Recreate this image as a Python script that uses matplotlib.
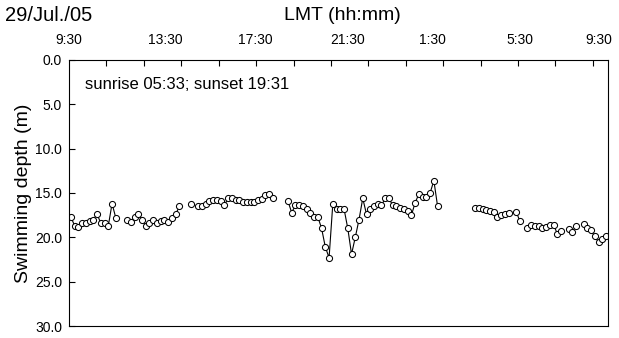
import numpy as np
import matplotlib.pyplot as plt

plt.rcParams['font.family'] = ['Liberation Sans Narrow', 'Liberation Sans', 'DejaVu Sans']

# depth records every 10 min from 9:30, split in runs (gaps = no data)
# index of the first record of each run
run_starts = [0, 15, 32, 34, 58, 108, 119, 122, 133, 137]

run_a = [17.7, 18.7, 18.8, 18.4, 18.4, 18.2, 18.0, 17.4, 18.4, 18.4, 18.7, 16.2, 17.8]
run_b = [18.0, 18.3, 17.7, 17.4, 18.0, 18.7, 18.4, 18.1, 18.4, 18.2, 18.0, 18.3,
         17.8, 17.4, 16.5]
run_c = [16.2]
run_d = [16.5, 16.5, 16.2, 15.9, 15.8, 15.8, 15.9, 16.4, 15.6, 15.6, 15.8, 15.8,
         16.0, 16.0, 16.0, 16.0, 15.8, 15.7, 15.2, 15.1, 15.6]
run_e = [15.9, 17.2, 16.4, 16.3, 16.5, 16.8, 17.2, 17.7, 17.7, 19.0, 21.1, 22.3,
         16.2, 16.8, 16.8, 16.8, 19.0, 21.9, 20.0, 18.0, 15.6, 17.4, 16.8, 16.5,
         16.2, 16.4, 15.6, 15.6, 16.4, 16.5, 16.7, 16.8, 17.0, 17.5, 16.1, 15.1,
         15.5, 15.5, 15.0, 13.6, 16.5]
run_f = [16.7, 16.7, 16.8, 16.9, 17.0, 17.1, 17.7, 17.5, 17.4, 17.3]
run_g = [17.1, 18.2]
run_h = [19.0, 18.6, 18.7, 18.7, 19.0, 18.8, 18.6, 18.6, 19.6, 19.3]
run_i = [19.1, 19.4, 18.7]
run_j = [18.5, 18.9, 19.2, 19.9, 20.5, 20.2, 19.8]

runs = [run_a, run_b, run_c, run_d, run_e, run_f, run_g, run_h, run_i, run_j]

time_labels = ['9:30', '13:30', '17:30', '21:30', '1:30', '5:30', '9:30']
# where the labels sit along the axis in the picture (hours after 9:30)
label_pos = [0, 4.3, 8.3, 12.4, 16.2, 20.1, 23.6]
depth_ticks = [0, 5, 10, 15, 20, 25, 30]

fig = plt.figure(figsize=(6.19, 3.38), dpi=100)
ax = fig.add_axes([0.1115, 0.0355, 0.8705, 0.787])

for start, vals in zip(run_starts, runs):
    t = (np.arange(len(vals)) + start + 0.5) / 6.0   # hours after 9:30
    ax.plot(t, vals, '-o', color='black', lw=0.8, ms=4.4,
            mfc='white', mec='black', mew=0.75)

ax.set_xlim(0, 24)
ax.set_ylim(30, 0)

# time axis on top: labels every 4 h, small ticks every 100 min
ax.xaxis.tick_top()
ax.set_xticks(label_pos)
ax.set_xticklabels(time_labels, fontsize=10)
ax.set_xticks(np.arange(0, 24, 100 / 60), minor=True)
ax.tick_params(axis='x', which='major', length=0, pad=9)
ax.tick_params(axis='x', which='minor', direction='in', length=4, width=0.8)

ax.set_yticks(depth_ticks)
ax.set_yticklabels([f'{d:.1f}' for d in depth_ticks], fontsize=10)
ax.tick_params(axis='y', direction='in', length=4, width=0.8, pad=5)

for s in ax.spines.values():
    s.set_linewidth(0.8)

ax.set_ylabel('Swimming depth (m)', fontsize=14, family=['Liberation Sans', 'DejaVu Sans'],
              labelpad=2)
ax.text(0.7, 2.8, 'sunrise 05:33; sunset 19:31', fontsize=12, va='center',
        family=['Liberation Sans Narrow', 'Liberation Sans', 'DejaVu Sans'])

fig.text(0.008, 0.955, '29/Jul./05', fontsize=14.5, va='center',
         family=['Liberation Sans', 'DejaVu Sans'])
fig.text(0.553, 0.955, 'LMT (hh:mm)', fontsize=14, va='center', ha='center',
         family=['Liberation Sans', 'DejaVu Sans'])

fig.savefig('out.png', dpi=100)
